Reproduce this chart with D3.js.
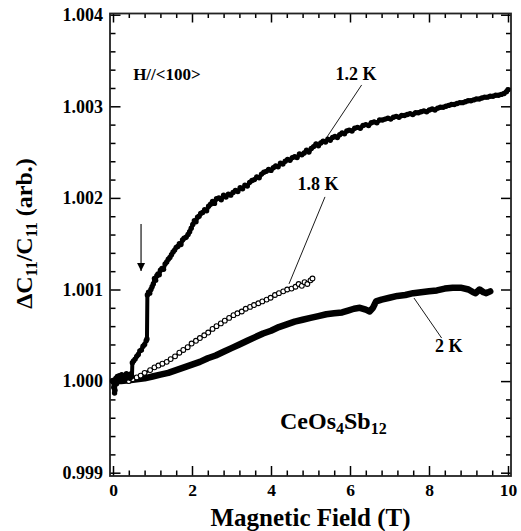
<!DOCTYPE html>
<html><head><meta charset="utf-8">
<script src="https://cdn.jsdelivr.net/npm/d3@7"></script>
<style>
html,body{margin:0;padding:0;background:#fff;}
svg{display:block;}
text{font-family:"Liberation Serif","Times New Roman",Times,serif !important;font-weight:bold;fill:#000;}
</style></head>
<body>
<svg id="chart" width="521" height="531"></svg>
<script>
// ---- data ----
const xTicks = [0, 2, 4, 6, 8, 10];
const yTicks = [0.999, 1.000, 1.001, 1.002, 1.003, 1.004];
const xTickLabels = ["0", "2", "4", "6", "8", "10"];
const yTickLabels = ["0.999", "1.000", "1.001", "1.002", "1.003", "1.004"];

const fieldT12 = [0.00,0.02,0.04,0.05,0.07,0.09,0.11,0.13,0.16,0.19,0.22,0.25,0.28,0.31,0.34,0.37,0.40,0.43,0.46,0.48,0.49,0.52,0.56,0.60,0.64,0.68,0.72,0.76,0.80,0.84,0.86,
  0.87,0.90,0.93,0.96,0.99,1.02,1.05,1.08,1.11,1.14,1.17,1.20,1.24,1.28,1.32,1.36,1.40,1.44,1.48,1.52,1.56,1.60,1.64,1.68,1.72,1.76,1.80,1.85,1.90,1.94,1.98,
  2.02,2.06,2.10,2.14,2.18,2.22,2.27,2.32,2.37,2.42,2.47,2.52,2.57,2.62,2.68,2.74,2.80,2.86,2.92,2.98,3.04,3.10,3.16,3.22,3.28,3.34,3.40,3.46,3.52,3.58,3.64,3.70,3.76,3.82,3.88,3.94,
  4.00,4.06,4.12,4.18,4.24,4.30,4.36,4.42,4.48,4.54,4.60,4.66,4.72,4.78,4.84,4.90,4.96,5.02,5.08,5.14,5.20,5.26,5.32,5.38,5.44,5.50,5.56,5.62,5.68,5.74,5.80,5.86,5.92,5.98,
  6.05,6.12,6.19,6.26,6.33,6.40,6.47,6.54,6.61,6.68,6.75,6.82,6.89,6.96,7.03,7.10,7.17,7.24,7.31,7.38,7.45,7.52,7.59,7.66,7.73,7.80,7.87,7.94,
  8.01,8.08,8.15,8.22,8.29,8.36,8.43,8.50,8.57,8.64,8.71,8.78,8.85,8.92,8.99,9.06,9.13,9.20,9.27,9.34,9.41,9.48,9.55,9.62,9.69,9.76,9.83,9.90,9.96,10.00];
const valT12 = [1.00000,0.99993,0.99987,0.99990,1.00003,0.99997,1.00005,1.00000,1.00006,1.00002,1.00007,1.00003,1.00006,1.00002,1.00008,1.00004,1.00007,1.00003,1.00008,1.00005,1.00020,1.00022,1.00024,1.00027,1.00029,1.00033,1.00034,1.00038,1.00040,1.00044,1.00046,
  1.00094,1.00097,1.00096,1.00100,1.00103,1.00106,1.00112,1.00110,1.00115,1.00117,1.00116,1.00121,1.00123,1.00122,1.00128,1.00130,1.00133,1.00135,1.00138,1.00141,1.00143,1.00146,1.00147,1.00150,1.00149,1.00154,1.00156,1.00157,1.00160,1.00163,1.00167,
  1.00171,1.00175,1.00174,1.00179,1.00180,1.00183,1.00184,1.00187,1.00186,1.00191,1.00193,1.00196,1.00194,1.00199,1.00200,1.00198,1.00203,1.00201,1.00204,1.00203,1.00206,1.00208,1.00207,1.00211,1.00210,1.00214,1.00213,1.00217,1.00219,1.00220,1.00223,1.00222,1.00226,1.00228,1.00229,1.00231,
  1.00230,1.00233,1.00235,1.00234,1.00238,1.00237,1.00240,1.00242,1.00241,1.00244,1.00245,1.00244,1.00248,1.00247,1.00249,1.00252,1.00250,1.00254,1.00256,1.00259,1.00257,1.00260,1.00262,1.00261,1.00264,1.00263,1.00266,1.00267,1.00266,1.00269,1.00271,1.00270,1.00273,1.00274,
  1.00273,1.00276,1.00277,1.00276,1.00279,1.00280,1.00279,1.00282,1.00283,1.00282,1.00285,1.00285,1.00286,1.00287,1.00286,1.00288,1.00289,1.00288,1.00290,1.00290,1.00291,1.00292,1.00291,1.00293,1.00293,1.00294,1.00295,1.00294,
  1.00296,1.00297,1.00296,1.00298,1.00299,1.00299,1.00300,1.00301,1.00302,1.00302,1.00303,1.00304,1.00304,1.00305,1.00306,1.00306,1.00307,1.00308,1.00308,1.00309,1.00310,1.00310,1.00311,1.00311,1.00312,1.00312,1.00313,1.00314,1.00316,1.00318];

const fieldT18 = [0.40,0.50,0.60,0.70,0.80,0.94,1.05,1.15,1.25,1.36,1.46,1.57,1.68,1.78,1.89,1.99,2.10,2.20,2.31,2.41,2.52,2.62,2.73,2.83,2.94,3.05,3.15,3.26,3.36,3.47,3.57,3.68,3.78,3.89,3.99,4.10,4.20,4.31,4.41,4.52,4.62,4.70,4.78,4.85,4.92,5.00,5.05];
const valT18 = [1.00000,1.00002,1.00004,1.00006,1.00009,1.00012,1.00015,1.00017,1.00019,1.00021,1.00024,1.00027,1.00031,1.00034,1.00037,1.00041,1.00044,1.00047,1.00050,1.00053,1.00057,1.00060,1.00063,1.00066,1.00069,1.00072,1.00074,1.00076,1.00079,1.00081,1.00083,1.00085,1.00087,1.00089,1.00091,1.00094,1.00096,1.00098,1.00100,1.00101,1.00103,1.00106,1.00104,1.00108,1.00106,1.00110,1.00112];

const fieldT20 = [0.00,0.20,0.40,0.60,0.80,1.00,1.20,1.40,1.60,1.80,2.00,2.20,2.40,2.60,2.80,3.00,3.20,3.40,3.60,3.80,4.00,4.20,4.40,4.60,4.80,5.00,5.20,5.40,5.60,5.80,5.95,6.10,6.25,6.40,6.50,6.58,6.66,6.80,7.00,7.20,7.40,7.60,7.80,8.00,8.20,8.40,8.60,8.80,9.00,9.12,9.18,9.28,9.38,9.45,9.55];
const valT20 = [1.00000,1.00000,1.00001,1.00002,1.00003,1.00005,1.00007,1.00009,1.00012,1.00015,1.00018,1.00021,1.00025,1.00028,1.00032,1.00036,1.00040,1.00044,1.00048,1.00052,1.00055,1.00059,1.00062,1.00065,1.00067,1.00069,1.00071,1.00073,1.00074,1.00075,1.00077,1.00079,1.00080,1.00078,1.00076,1.00080,1.00087,1.00089,1.00091,1.00093,1.00094,1.00096,1.00097,1.00098,1.00099,1.00101,1.00102,1.00102,1.00100,1.00097,1.00096,1.00100,1.00097,1.00096,1.00098];

// ---- layout ----
const svg = d3.select("#chart");
const frame = {left:110, right:511, top:13.5, bottom:476};
const x = d3.scaleLinear().domain([0, 10]).range([113, 508]);
const y = d3.scaleLinear().domain([0.999, 1.004]).range([472.7, 14.7]);

const xMinor = d3.range(0, 10.001, 0.4).filter(v => Math.abs(v/2 - Math.round(v/2)) > 1e-6);
const yMinor = d3.range(0.999, 1.00401, 0.0002).filter(v => Math.abs(v*1000 - Math.round(v*1000)) > 1e-6);

function styleAxis(g){
  g.select(".domain").remove();
  g.attr("font-family",null);
  g.selectAll("line").attr("stroke","#000").attr("stroke-width",1.5);
}

// bottom axis
svg.append("g").attr("transform",`translate(0,${frame.bottom})`)
  .call(d3.axisBottom(x).tickValues(xTicks).tickFormat((d,i)=>xTickLabels[i]).tickSize(-10).tickPadding(8))
  .call(styleAxis)
  .call(g=>g.selectAll("text").attr("font-size",17.5).attr("fill","#000"));
svg.append("g").attr("transform",`translate(0,${frame.bottom})`)
  .call(d3.axisBottom(x).tickValues(xMinor).tickFormat("").tickSize(-5.5)).call(styleAxis);
// top axis
svg.append("g").attr("transform",`translate(0,${frame.top})`)
  .call(d3.axisTop(x).tickValues(xTicks).tickFormat("").tickSize(-9)).call(styleAxis);
svg.append("g").attr("transform",`translate(0,${frame.top})`)
  .call(d3.axisTop(x).tickValues(xMinor).tickFormat("").tickSize(-4.5)).call(styleAxis);
// left axis
svg.append("g").attr("transform",`translate(${frame.left},0)`)
  .call(d3.axisLeft(y).tickValues(yTicks).tickFormat((d,i)=>yTickLabels[i]).tickSize(-10.5).tickPadding(7))
  .call(styleAxis)
  .call(g=>g.selectAll("text").attr("font-size",18).attr("fill","#000"));
svg.append("g").attr("transform",`translate(${frame.left},0)`)
  .call(d3.axisLeft(y).tickValues(yMinor).tickFormat("").tickSize(-5.5)).call(styleAxis);
// right axis
svg.append("g").attr("transform",`translate(${frame.right},0)`)
  .call(d3.axisRight(y).tickValues(yTicks).tickFormat("").tickSize(-10)).call(styleAxis);
svg.append("g").attr("transform",`translate(${frame.right},0)`)
  .call(d3.axisRight(y).tickValues(yMinor).tickFormat("").tickSize(-5)).call(styleAxis);

// frame
svg.append("rect").attr("x",frame.left).attr("y",frame.top)
  .attr("width",frame.right-frame.left).attr("height",frame.bottom-frame.top)
  .attr("fill","none").attr("stroke","#222").attr("stroke-width",1.8);

// ---- series ----
const line = d3.line().x(d=>x(d[0])).y(d=>y(d[1]));
const s20 = fieldT20.map((f,i)=>[f,valT20[i]]);
const s18 = fieldT18.map((f,i)=>[f,valT18[i]]);
const s12 = fieldT12.map((f,i)=>[f,valT12[i]]);

// 2 K
svg.append("path").datum(s20).attr("d",line).attr("fill","none")
  .attr("stroke","#000").attr("stroke-width",6.5).attr("stroke-linejoin","round").attr("stroke-linecap","round");

// 1.8 K
svg.append("path").datum(s18).attr("d",line).attr("fill","none")
  .attr("stroke","#000").attr("stroke-width",2.4).attr("stroke-linejoin","round");
svg.append("g").selectAll("circle").data(s18).join("circle")
  .attr("cx",d=>x(d[0])).attr("cy",d=>y(d[1])).attr("r",2.4)
  .attr("fill","#fff").attr("stroke","#000").attr("stroke-width",1.1);

// 1.2 K
svg.append("path").datum(s12).attr("d",line).attr("fill","none")
  .attr("stroke","#000").attr("stroke-width",4).attr("stroke-linejoin","round");
svg.append("g").selectAll("circle").data(s12).join("circle")
  .attr("cx",d=>x(d[0])).attr("cy",d=>y(d[1])).attr("r",2.7).attr("fill","#000");

// ---- annotations ----
function lead(x1,y1,x2,y2){
  svg.append("line").attr("x1",x(x1)).attr("y1",y(y1)).attr("x2",x(x2)).attr("y2",y(y2))
    .attr("stroke","#000").attr("stroke-width",0.9);
}
lead(6.295,1.003233,5.418,1.002665);
lead(5.367,1.002011,4.456,1.001061);
lead(7.62,1.000907,8.32,1.000470);

function label(txt,xv,yv,size,anchor){
  return svg.append("text").attr("x",x(xv)).attr("y",y(yv)).attr("font-size",size)
    .attr("text-anchor",anchor||"middle").text(txt);
}
label("1.2 K",6.15,1.003287,18);
label("1.8 K",5.19,1.002087,18);
label("2 K",8.5,1.000318,18);
label("H//<100>",0.51,1.003287,17,"start");

// arrow
svg.append("defs").append("marker").attr("id","ah").attr("viewBox","0 0 10 10")
  .attr("refX",10).attr("refY",5).attr("markerWidth",8).attr("markerHeight",12)
  .attr("markerUnits","userSpaceOnUse").attr("orient","auto")
  .append("path").attr("d","M0,0 L10,5 L0,10 Z").attr("fill","#000");
svg.append("line").attr("x1",x(0.71)).attr("y1",y(1.001715)).attr("x2",x(0.71)).attr("y2",y(1.001202))
  .attr("stroke","#000").attr("stroke-width",1.1).attr("marker-end","url(#ah)");

// compound name
const ce = svg.append("text").attr("x",280).attr("y",429).attr("font-size",24);
ce.append("tspan").text("CeOs");
ce.append("tspan").attr("font-size",16).attr("dy",5).text("4");
ce.append("tspan").attr("dy",-5).text("Sb");
ce.append("tspan").attr("font-size",16).attr("dy",5).text("12");

// axis titles
svg.append("text").attr("x",(frame.left+frame.right)/2).attr("y",526)
  .attr("text-anchor","middle").attr("font-size",25).text("Magnetic Field (T)");

const yt = svg.append("text").attr("transform","translate(32,233.5) rotate(-90)")
  .attr("text-anchor","middle").attr("font-size",24);
yt.append("tspan").text("ΔC");
yt.append("tspan").attr("font-size",16).attr("dy",5).text("11");
yt.append("tspan").attr("dy",-5).text("/C");
yt.append("tspan").attr("font-size",16).attr("dy",5).text("11");
yt.append("tspan").attr("dy",-5).text(" (arb.)");
</script>
</body></html>
